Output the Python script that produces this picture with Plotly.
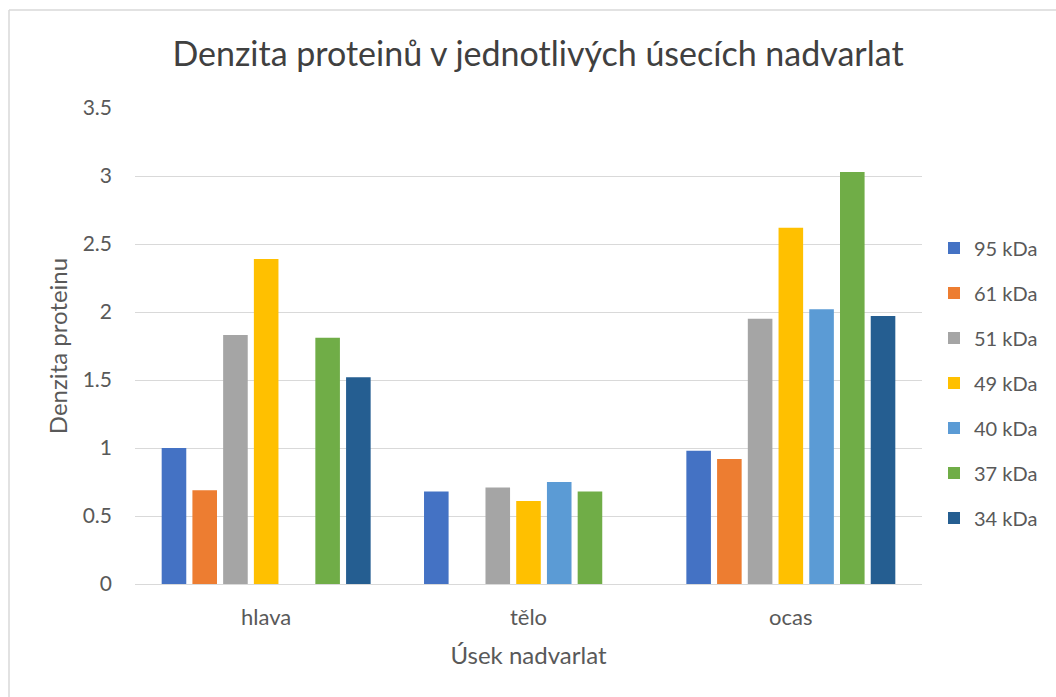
import plotly.graph_objects as go

# Úseky nadvarlat (kategorie na ose x)
categories = ["hlava", "tělo", "ocas"]

# Hustota jednotlivých proteinových pásů; None = pás nebyl v úseku naměřen
kda_95 = [1.00, 0.68, 0.98]
kda_61 = [0.69, None, 0.92]
kda_51 = [1.83, 0.71, 1.95]
kda_49 = [2.39, 0.61, 2.62]
kda_40 = [None, 0.75, 2.02]
kda_37 = [1.81, 0.68, 3.03]
kda_34 = [1.52, None, 1.97]

series_names = ["95 kDa", "61 kDa", "51 kDa", "49 kDa", "40 kDa", "37 kDa", "34 kDa"]
series_values = [kda_95, kda_61, kda_51, kda_49, kda_40, kda_37, kda_34]
colors = ["#4472C4", "#ED7D31", "#A5A5A5", "#FFC000", "#5B9BD5", "#70AD47", "#255E91"]

y_ticks = [0, 0.5, 1, 1.5, 2, 2.5, 3, 3.5]
y_tick_text = ["0", "0.5", "1", "1.5", "2", "2.5", "3", "3.5"]

FONT = "Lato"
TEXT = "#595959"

# plot area in pixels
W, H = 1056, 697
L, R, T, B = 135, 134, 108, 113
PW, PH = W - L - R, H - T - B


def px_x(px):
    return (px - L) / PW


def px_y(py):
    return (H - B - py) / PH


fig = go.Figure()
for i, (name, vals, col) in enumerate(zip(series_names, series_values, colors)):
    fig.add_trace(go.Bar(
        x=categories, y=vals, name=name,
        marker=dict(color=col, line=dict(width=0)),
        legendgroup=f"g{i}",
    ))

fig.update_layout(
    width=W, height=H,
    paper_bgcolor="white", plot_bgcolor="white",
    margin=dict(l=L, r=R, t=T, b=B),
    barmode="group", bargap=0.18, bargroupgap=0.2,
    font=dict(family=FONT, color=TEXT, size=20),
    title=dict(
        text="Denzita proteinů v jednotlivých úsecích nadvarlat",
        x=538 / W, xanchor="center", y=0.922, yanchor="middle",
        xref="container",
        font=dict(family=FONT, size=34, color="#404040"),
    ),
    legend=dict(
        x=px_x(934), xanchor="left", y=px_y(383), yanchor="middle",
        font=dict(family=FONT, size=20, color=TEXT),
        traceorder="grouped", tracegroupgap=16,
        itemwidth=30, bgcolor="rgba(0,0,0,0)",
    ),
    xaxis=dict(
        showgrid=False, showline=False, ticks="",
        ticklabelstandoff=18,
        tickfont=dict(family=FONT, size=22, color=TEXT),
        title=dict(text="Úsek nadvarlat", standoff=18,
                   font=dict(family=FONT, size=24, color=TEXT)),
    ),
    yaxis=dict(
        range=[0, 3.5], tickvals=y_ticks, ticktext=y_tick_text,
        showgrid=True, gridcolor="#D9D9D9", gridwidth=1,
        zeroline=True, zerolinecolor="#D9D9D9", zerolinewidth=1,
        showline=False, ticks="", ticklabelstandoff=22,
        tickfont=dict(family=FONT, size=21, color=TEXT),
        title=dict(text="Denzita proteinu", standoff=8,
                   font=dict(family=FONT, size=24, color=TEXT)),
    ),
    shapes=[
        # chart frame: left and top edges
        dict(type="line", xref="paper", yref="paper",
             x0=px_x(9), x1=px_x(9), y0=px_y(H + 2), y1=px_y(10),
             line=dict(color="#D9D9D9", width=1.5)),
        dict(type="line", xref="paper", yref="paper",
             x0=px_x(9), x1=px_x(W + 2), y0=px_y(10), y1=px_y(10),
             line=dict(color="#D9D9D9", width=1.5)),
    ],
)

fig.write_html("out.html")
